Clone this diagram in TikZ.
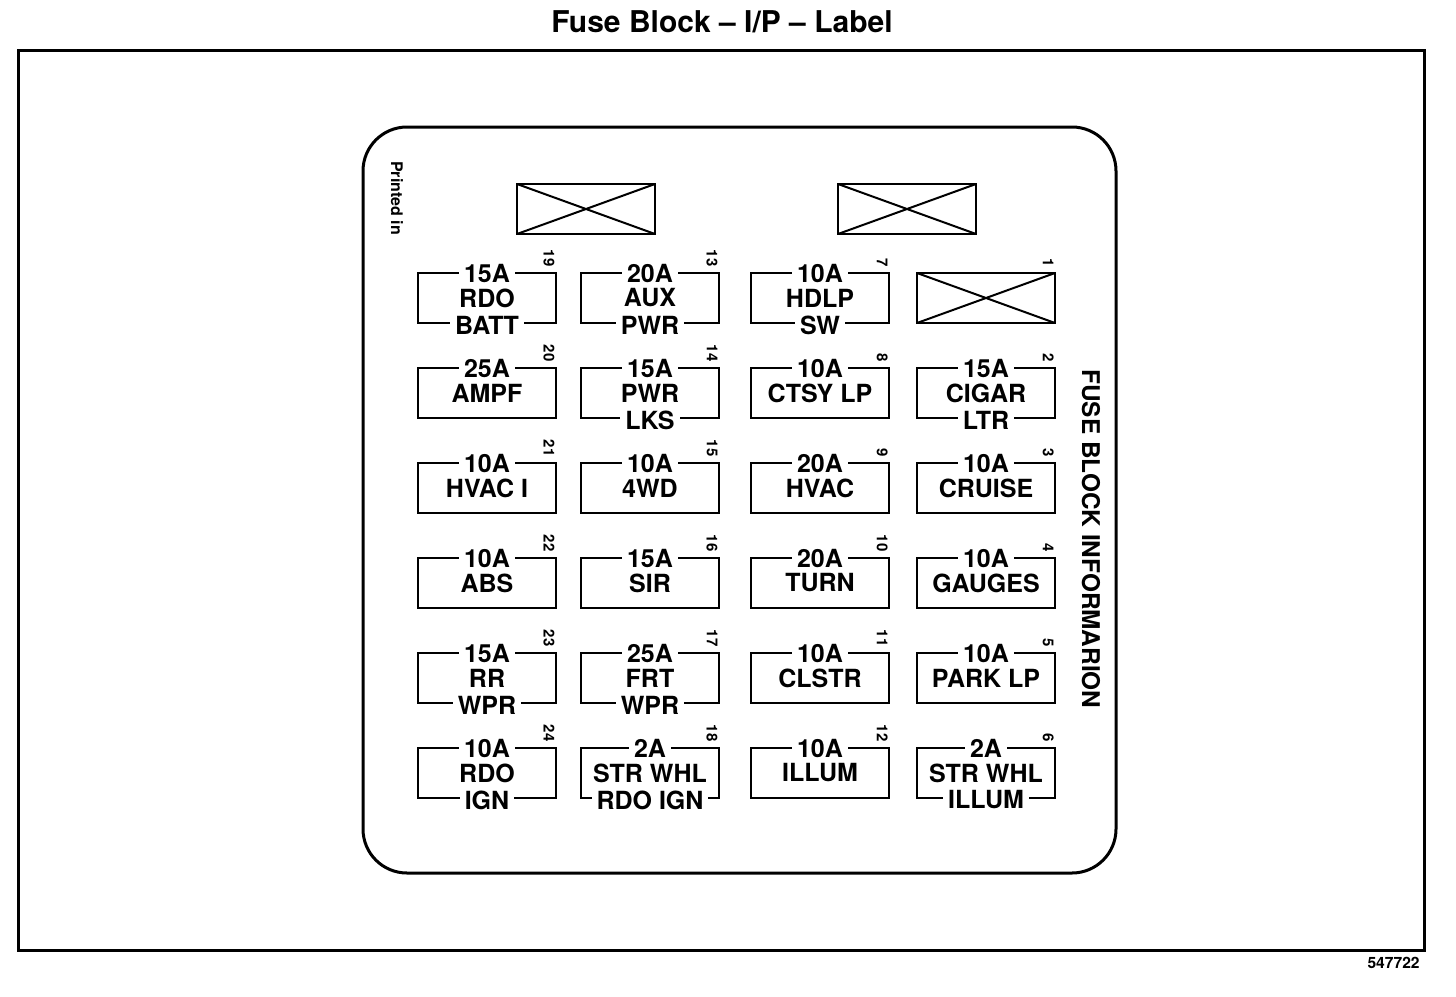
\documentclass[tikz,border=0pt]{standalone}
\usepackage{fontspec}
\setmainfont{TeX Gyre Heros}
\usetikzlibrary{positioning}

\tikzset{
    fusebox/.style={draw, line width=1.2pt, minimum width=69pt, minimum height=25pt,
                    inner sep=0pt, outer sep=0pt, anchor=north west},
    fusetext/.style={font=\fontsize{12.5}{13}\bfseries\selectfont, inner xsep=2.5pt, inner ysep=0pt},
    fusenum/.style={font=\fontsize{7.5}{8}\bfseries\selectfont, rotate=-90, anchor=north east, inner sep=0.5pt},
}

% one fuse: number, x, y (north west corner), amps, middle line, bottom line
\newcommand{\fuse}[6]{%
  \node[fusebox] (f#1) at (#2,#3) {};
  \node[fusetext, fill=white] (f#1a) at (f#1.north) {#4};
  \node[fusetext] (f#1m) at (f#1.center) {#5};
  \if\relax\detokenize{#6}\relax\else
    \node[fusetext, fill=white, yshift=-1pt] (f#1b) at (f#1.south) {#6};
  \fi
  \node[fusenum] (n#1) at ([yshift=2.5pt]f#1.north east) {#1};
}

\begin{document}
\begin{tikzpicture}[x=0.5pt, y=-0.5pt]
\useasboundingbox (0,0) rectangle (1456,996);
% title and frame
\node[font=\fontsize{15}{16}\bfseries\selectfont] (title) at (722,22) {Fuse Block \textendash{} I/P \textendash{} Label};
\draw[line width=1.5pt] (18,50) rectangle (1424,950);
\node[font=\fontsize{7.8}{8}\bfseries\selectfont, anchor=east, inner sep=0pt] (code) at (1420,963) {547722};
% the label itself
\draw[line width=1.5pt, rounded corners=22pt] (363,127) rectangle (1116,873);
\node[font=\fontsize{8}{9}\bfseries\selectfont, rotate=-90] (printed) at (397,198) {Printed in};
\node[font=\fontsize{12.2}{13}\bfseries\selectfont, rotate=-90] (info) at (1091,539) {FUSE BLOCK INFORMARION};
% blank spaces
\node[fusebox, minimum height=25pt] (blankA) at (517,184) {};
\node[fusebox, minimum height=25pt] (blankB) at (838,184) {};
\draw[line width=1pt] (blankA.north west) -- (blankA.south east) (blankA.south west) -- (blankA.north east);
\draw[line width=1pt] (blankB.north west) -- (blankB.south east) (blankB.south west) -- (blankB.north east);
% column 1
\fuse{19}{418}{273}{15A}{RDO}{BATT}
\fuse{20}{418}{368}{25A}{AMPF}{}
\fuse{21}{418}{463}{10A}{HVAC I}{}
\fuse{22}{418}{558}{10A}{ABS}{}
\fuse{23}{418}{653}{15A}{RR}{WPR}
\fuse{24}{418}{748}{10A}{RDO}{IGN}
% column 2
\fuse{13}{581}{273}{20A}{AUX}{PWR}
\fuse{14}{581}{368}{15A}{PWR}{LKS}
\fuse{15}{581}{463}{10A}{4WD}{}
\fuse{16}{581}{558}{15A}{SIR}{}
\fuse{17}{581}{653}{25A}{FRT}{WPR}
\fuse{18}{581}{748}{2A}{STR WHL}{RDO IGN}
% column 3
\fuse{7}{751}{273}{10A}{HDLP}{SW}
\fuse{8}{751}{368}{10A}{CTSY LP}{}
\fuse{9}{751}{463}{20A}{HVAC}{}
\fuse{10}{751}{558}{20A}{TURN}{}
\fuse{11}{751}{653}{10A}{CLSTR}{}
\fuse{12}{751}{748}{10A}{ILLUM}{}
% column 4
\node[fusebox] (f1) at (917,273) {};
\draw[line width=1pt] (f1.north west) -- (f1.south east) (f1.south west) -- (f1.north east);
\node[fusenum] (n1) at ([yshift=2.5pt]f1.north east) {1};
\fuse{2}{917}{368}{15A}{CIGAR}{LTR}
\fuse{3}{917}{463}{10A}{CRUISE}{}
\fuse{4}{917}{558}{10A}{GAUGES}{}
\fuse{5}{917}{653}{10A}{PARK LP}{}
\fuse{6}{917}{748}{2A}{STR WHL}{ILLUM}
\end{tikzpicture}
\end{document}
